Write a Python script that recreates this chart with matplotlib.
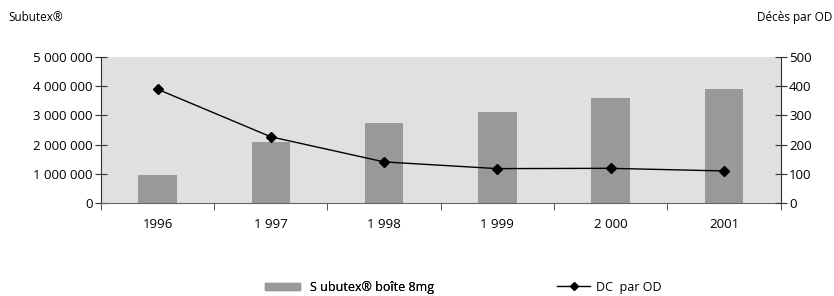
import matplotlib.pyplot as plt
import numpy as np
from matplotlib.lines import Line2D
from matplotlib.patches import Patch

years = ['1996', '1 997', '1 998', '1 999', '2 000', '2001']
subutex = [950000, 2100000, 2750000, 3120000, 3600000, 3900000]
deces = [390, 227, 141, 118, 119, 110]
left_ticks = [0, 1000000, 2000000, 3000000, 4000000, 5000000]
left_labels = ['0', '1 000 000', '2 000 000', '3 000 000', '4 000 000', '5 000 000']
right_ticks = [0, 100, 200, 300, 400, 500]

plt.rcParams['font.family'] = ['Open Sans', 'DejaVu Sans']
plt.rcParams['font.size'] = 9.5

fig = plt.figure(figsize=(8.34, 2.96), dpi=100)
ax = fig.add_axes([0.121, 0.314, 0.815, 0.493])
ax.set_facecolor('#e0e0e0')

x = np.arange(len(years))
ax.bar(x, subutex, 0.34, color='#999999', zorder=2)
ax.set_xlim(-0.5, len(years) - 0.5)
ax.set_ylim(0, 5000000)
ax.set_yticks(left_ticks)
ax.set_yticklabels(left_labels)
ax.set_xticks(x)
ax.set_xticklabels(years)
ax.set_xticks(np.arange(len(years) + 1) - 0.5, minor=True)
ax.tick_params(axis='x', which='major', length=0, pad=11)
ax.tick_params(axis='x', which='minor', length=5, direction='out', color='#333333')
ax.tick_params(axis='y', length=8, direction='inout', pad=2, color='#333333')
ax.spines['top'].set_visible(False)
ax.spines['bottom'].set_color('#666666')
ax.spines['left'].set_color('#333333')
ax.spines['right'].set_visible(False)

ax2 = ax.twinx()
ax2.plot(x, deces, color='black', lw=1, marker='D', ms=5, zorder=3)
ax2.set_ylim(0, 500)
ax2.set_yticks(right_ticks)
ax2.tick_params(axis='y', length=8, direction='inout', pad=2, color='#333333')
ax2.spines['top'].set_visible(False)
ax2.spines['left'].set_visible(False)
ax2.spines['bottom'].set_visible(False)
ax2.spines['right'].set_color('#333333')

fig.text(0.010, 0.94, 'Subutex®', fontsize=8.5, va='center')
fig.text(0.998, 0.94, 'Décès par OD', fontsize=8.5, va='center', ha='right')

leg1 = fig.legend([Patch(color='#999999')], ['S ubutex® boîte 8mg'],
                  loc='center left', bbox_to_anchor=(0.318, 0.03), frameon=False,
                  borderpad=0, borderaxespad=0, handlelength=2.8, handleheight=0.5,
                  handletextpad=0.8, fontsize=9)
fig.legend([Line2D([], [], color='black', lw=1, marker='D', ms=4)], ['DC  par OD'],
           loc='center left', bbox_to_anchor=(0.668, 0.03), frameon=False,
           borderpad=0, borderaxespad=0, handlelength=2.65, handletextpad=0.5,
           fontsize=9)
fig.add_artist(leg1)

fig.savefig('out.png', dpi=100)
